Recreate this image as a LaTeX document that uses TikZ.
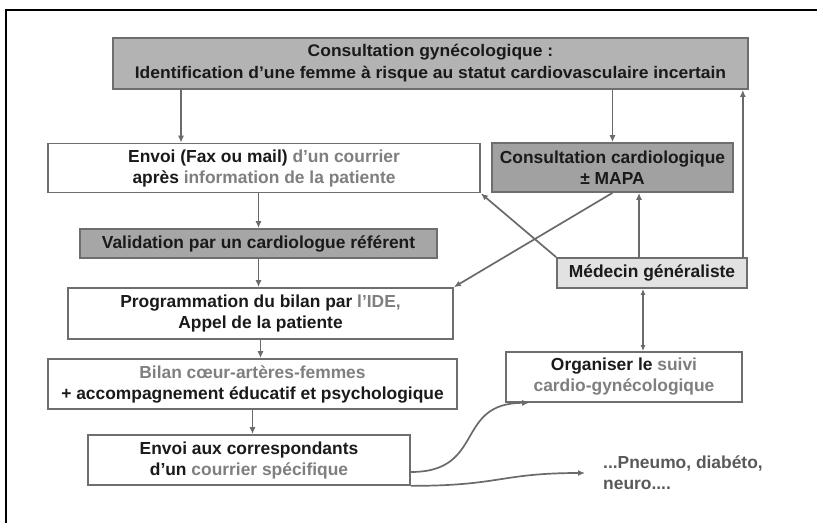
\documentclass[tikz,border=0pt]{standalone}
\usepackage{fontspec}
\setmainfont{Liberation Sans}
\newfontfamily\widefont[FakeStretch=1.04]{Liberation Sans}
\usetikzlibrary{arrows.meta}

\definecolor{boxline}{HTML}{6E6E6E}
\definecolor{arrowgray}{HTML}{6A6A6A}
\definecolor{txtgray}{HTML}{7F7F7F}
\definecolor{txtblack}{HTML}{1A1A1A}
\definecolor{othergray}{HTML}{595959}
\definecolor{topfill}{HTML}{B3B3B3}
\definecolor{cardiofill}{HTML}{A1A1A1}
\definecolor{validfill}{HTML}{A6A6A6}
\definecolor{genfill}{HTML}{E2E2E2}

\newcommand{\boxfont}{\bfseries\fontsize{17.4}{21}\selectfont}
\newcommand{\topfont}{\widefont\bfseries\fontsize{16.8}{22}\selectfont}
\newcommand{\grtxt}[1]{\textcolor{txtgray}{#1}}

\tikzset{
	box/.style={draw=boxline,line width=1.7pt,fill=white,align=center,
		font=\boxfont,text=txtblack,inner sep=0pt},
	topbox/.style={box,fill=topfill,minimum width=635pt,minimum height=51pt,font=\topfont},
	envoibox/.style={box,minimum width=432pt,minimum height=49pt},
	cardiobox/.style={box,fill=cardiofill,minimum width=241pt,minimum height=49pt},
	validbox/.style={box,fill=validfill,minimum width=357pt,minimum height=29pt},
	progbox/.style={box,minimum width=385pt,minimum height=51pt},
	bilanbox/.style={box,minimum width=409pt,minimum height=50pt},
	corrbox/.style={box,minimum width=322pt,minimum height=50pt},
	suivibox/.style={box,minimum width=236pt,minimum height=50pt},
	genbox/.style={box,fill=genfill,minimum width=190pt,minimum height=30pt},
	freetext/.style={anchor=west,align=left,font=\boxfont,
		text=othergray,inner sep=0pt,inner xsep=18pt},
	arr/.style={-{Latex[length=7pt,width=6pt]},line width=1.7pt,draw=arrowgray},
	bothway/.style={arr,{Latex[length=6pt,width=5pt]}-{Latex[length=6pt,width=5pt]}}
}

\begin{document}
\begin{tikzpicture}[x=1pt,y=-1pt]
	\useasboundingbox (0,0) rectangle (817,523);
	% frame, cut on the right and at the bottom
	\draw[line width=1.8pt] (6,523) -- (6,10) -- (817,10);
	%%%%%%%%%%%%%%%%% nodes %%%%%%%%%%%%%%%%%%%
	%  (x,y) = centre in pixels of the figure
	\node[topbox] (gyneco) at (430.5,63.5)
	{Consultation gynécologique :\\Identification d’une femme à risque au statut cardiovasculaire incertain};
	\node[envoibox] (envoi) at (264,168)
	{Envoi (Fax ou mail) \grtxt{d’un courrier}\\après \grtxt{information de la patiente}};
	\node[cardiobox] (cardio) at (612.5,167.5) {Consultation cardiologique\\± MAPA};
	\node[validbox] (valid) at (258.5,243.5) {Validation par un cardiologue référent};
	\node[progbox] (prog) at (260.5,313.5)
	{Programmation du bilan par \grtxt{l’IDE,}\\Appel de la patiente};
	\node[bilanbox] (bilan) at (252.5,384)
	{\grtxt{Bilan cœur-artères-femmes}\\+ accompagnement éducatif et psychologique};
	\node[corrbox] (corresp) at (249,460)
	{Envoi aux correspondants\\d’un \grtxt{courrier spécifique}};
	\node[genbox] (gen) at (652,273) {Médecin généraliste};
	\node[suivibox] (suivi) at (624,377)
	{Organiser le \grtxt{suivi}\\\grtxt{cardio-gynécologique}};
	\node[freetext] (autres) at (585,473) {...Pneumo, diabéto,\\neuro....};
	
	%%%%%%%%%%%%%%%%% edges %%%%%%%%%%%%%%%%%%%%%%%
	\coordinate (toenvoi) at ([xshift=-83pt]envoi.north);
	\coordinate (upcardio) at ([xshift=-13pt]gen.north);
	\coordinate (uptop) at ([xshift=-5pt]gen.north east);
	\coordinate (downsuivi) at ([xshift=-9pt]gen.south);
	
	\draw[arr] (toenvoi |- gyneco.south) -- (toenvoi);
	\draw[arr] (cardio |- gyneco.south) -- (cardio.north);
	\draw[arr] (valid |- envoi.south) -- (valid.north);
	\foreach \a/\b in {valid/prog,prog/bilan,bilan/corresp}
	{\draw[arr] (\a.south) -- (\a.south |- \b.north);}
	
	% crossing arrows
	\draw[arr] (gen.north west) -- (envoi.south east);
	\draw[arr] (cardio.south) -- (prog.north east);
	
	\draw[arr] (upcardio) -- (upcardio |- cardio.south);
	\draw[arr] (uptop) -- (uptop |- gyneco.south);
	\draw[bothway] (downsuivi) -- (downsuivi |- suivi.north);
	
	% curved exits of the letter
	\draw[arr] ([yshift=-12pt]corresp.east) .. controls +(75,0) and +(-75,0)
		.. ([xshift=24pt]suivi.south west);
	\draw[arr] (corresp.south east) .. controls +(90,0) and +(-85,0) .. (autres.west);
\end{tikzpicture}
\end{document}
